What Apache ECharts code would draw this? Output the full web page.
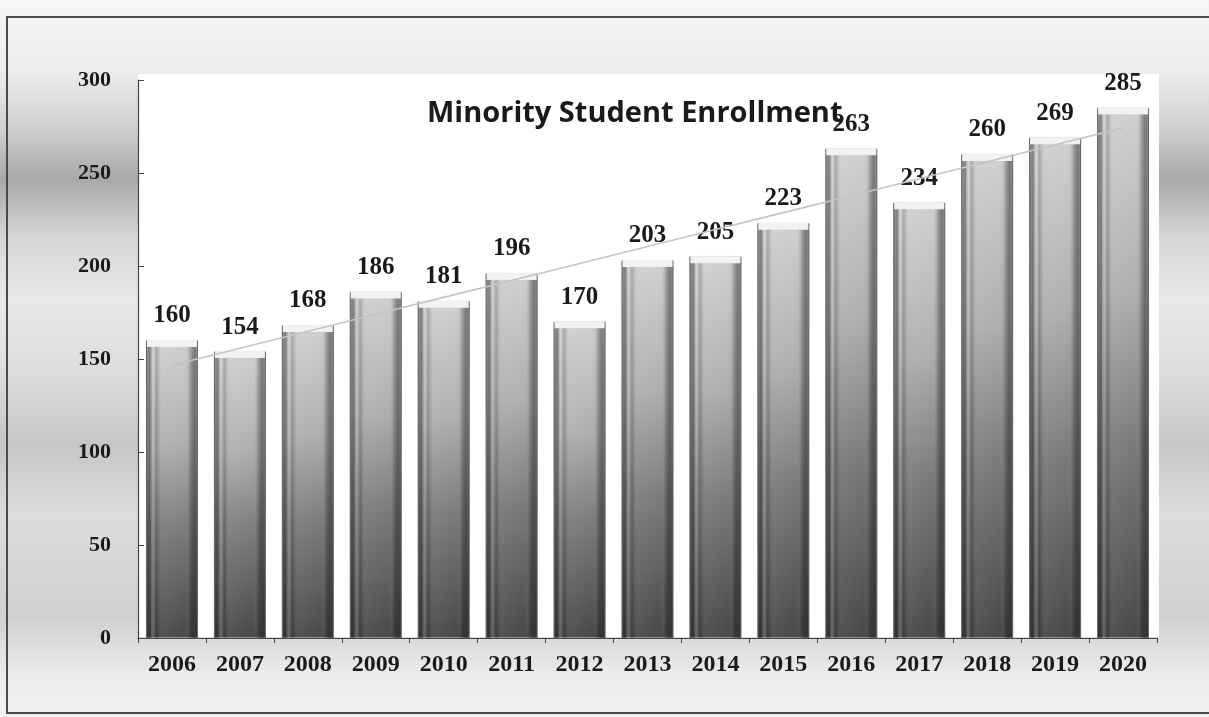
<!DOCTYPE html>
<html>
<head>
<meta charset="utf-8">
<title>Minority Student Enrollment</title>
<script src="https://cdn.jsdelivr.net/npm/echarts@6/dist/echarts.min.js"></script>
<style>
  html, body { margin: 0; padding: 0; background: #ffffff; }
  #chart { width: 1209px; height: 717px; }
</style>
</head>
<body>
<div id="chart"></div>
<script>
// Enrollment counts per school year
const years = ['2006', '2007', '2008', '2009', '2010', '2011', '2012', '2013', '2014', '2015', '2016', '2017', '2018', '2019', '2020'];
const enrollment = [160, 154, 168, 186, 181, 196, 170, 203, 205, 223, 263, 234, 260, 269, 285];
const yTicks = { min: 0, max: 300, interval: 50 };

// Least-squares linear trend through the enrollment counts
function linearTrend(values) {
  const n = values.length;
  let sx = 0, sy = 0, sxy = 0, sxx = 0;
  values.forEach((v, i) => { sx += i; sy += v; sxy += i * v; sxx += i * i; });
  const slope = (n * sxy - sx * sy) / (n * sxx - sx * sx);
  const icept = (sy - slope * sx) / n;
  return values.map((_, i) => +(icept + slope * i).toFixed(2));
}
const trend = linearTrend(enrollment);

const serif = '"Liberation Serif", "Times New Roman", serif';
const chart = echarts.init(document.getElementById('chart'), null, { renderer: 'canvas' });

const gridBox = { left: 138, right: 52, top: 80, bottom: 79 };

chart.setOption({
  animation: false,
  graphic: [
    // page backdrop with soft grey banding
    {
      type: 'rect', z: -10, silent: true,
      shape: { x: 0, y: 0, width: 1209, height: 717 },
      style: {
        fill: new echarts.graphic.LinearGradient(0, 0, 0, 1, [
          { offset: 0.00, color: '#f6f6f6' },
          { offset: 0.10, color: '#ececec' },
          { offset: 0.18, color: '#cfcfcf' },
          { offset: 0.25, color: '#a8a8a8' },
          { offset: 0.33, color: '#d6d6d6' },
          { offset: 0.42, color: '#e8e8e8' },
          { offset: 0.52, color: '#dcdcdc' },
          { offset: 0.62, color: '#c6c6c6' },
          { offset: 0.72, color: '#dcdcdc' },
          { offset: 0.86, color: '#d0d0d0' },
          { offset: 0.94, color: '#ebebeb' },
          { offset: 1.00, color: '#f2f2f2' }
        ])
      }
    },
    // white plotting panel
    {
      type: 'rect', z: -9, silent: true,
      shape: { x: 138, y: 74, width: 1021, height: 563 },
      style: { fill: '#ffffff' }
    },
    // outer frame
    {
      type: 'rect', z: -8, silent: true,
      shape: { x: 7, y: 17, width: 1220, height: 696 },
      style: { fill: 'none', stroke: '#4a4a4a', lineWidth: 2 }
    }
  ],
  title: {
    text: 'Minority Student Enrollment',
    left: 422,
    top: 94,
    textStyle: {
      fontFamily: '"Open Sans", "Noto Sans", sans-serif',
      fontWeight: 'bold',
      fontSize: 29,
      color: '#1a1a1a'
    }
  },
  grid: gridBox,
  xAxis: {
    type: 'category',
    data: years,
    axisLine: { lineStyle: { color: '#444', width: 1.2 } },
    axisTick: { show: true, alignWithLabel: false, length: 5, lineStyle: { color: '#444' } },
    axisLabel: {
      margin: 15,
      fontFamily: serif,
      fontWeight: 'bold',
      fontSize: 24,
      color: '#1a1a1a'
    }
  },
  yAxis: {
    type: 'value',
    min: yTicks.min,
    max: yTicks.max,
    interval: yTicks.interval,
    splitLine: { show: false },
    axisLine: { show: true, lineStyle: { color: '#444', width: 1.2 } },
    axisTick: { show: true, inside: true, length: 6, lineStyle: { color: '#444' } },
    axisLabel: {
      margin: 27,
      fontFamily: serif,
      fontWeight: 'bold',
      fontSize: 22,
      color: '#1a1a1a'
    }
  },
  series: [
    {
      // main column body: light top shading down to dark base
      name: 'Enrollment',
      type: 'bar',
      data: enrollment,
      barWidth: 52,
      z: 2,
      itemStyle: {
        color: new echarts.graphic.LinearGradient(0, 0, 0, 1, [
          { offset: 0.00, color: '#cecece' },
          { offset: 0.35, color: '#aaaaaa' },
          { offset: 0.62, color: '#767676' },
          { offset: 1.00, color: '#3e3e3e' }
        ]),
        borderColor: '#8a8a8a',
        borderWidth: 1
      },
      label: {
        show: true,
        position: 'top',
        distance: 12,
        fontFamily: serif,
        fontWeight: 'bold',
        fontSize: 25,
        color: '#1a1a1a'
      }
    },
    {
      // darker side edges giving each column a rounded look
      name: 'Edge shading',
      type: 'bar',
      data: enrollment,
      barWidth: 52,
      barGap: '-100%',
      z: 3,
      silent: true,
      itemStyle: {
        color: new echarts.graphic.LinearGradient(0, 0, 1, 0, [
          { offset: 0.00, color: 'rgba(40,40,40,0.35)' },
          { offset: 0.08, color: 'rgba(40,40,40,0.45)' },
          { offset: 0.14, color: 'rgba(255,255,255,0.20)' },
          { offset: 0.20, color: 'rgba(40,40,40,0.22)' },
          { offset: 0.30, color: 'rgba(255,255,255,0.10)' },
          { offset: 0.75, color: 'rgba(255,255,255,0.05)' },
          { offset: 0.86, color: 'rgba(40,40,40,0.28)' },
          { offset: 0.93, color: 'rgba(40,40,40,0.50)' },
          { offset: 1.00, color: 'rgba(40,40,40,0.35)' }
        ])
      }
    },
    {
      // pale cap at the top of each column
      name: 'Cap',
      type: 'pictorialBar',
      data: enrollment,
      symbol: 'rect',
      symbolSize: [50, 7],
      symbolPosition: 'end',
      symbolOffset: [0, '-10%'],
      barGap: '-100%',
      z: 4,
      silent: true,
      itemStyle: {
        color: '#f2f2f2',
        borderColor: '#a0a0a0',
        borderWidth: 1
      }
    },
    {
      name: 'Trend',
      type: 'line',
      data: trend,
      symbol: 'none',
      z: 5,
      silent: true,
      lineStyle: { color: '#c4c4c4', width: 1.6 }
    }
  ]
});
</script>
</body>
</html>
